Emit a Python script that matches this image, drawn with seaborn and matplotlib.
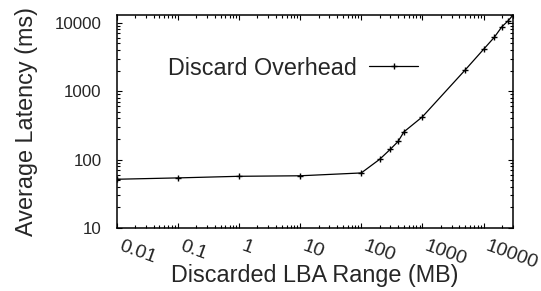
import matplotlib
matplotlib.use("Agg")
import matplotlib.pyplot as plt
import matplotlib.ticker as mticker
import matplotlib.transforms as mtrans
import seaborn as sns
import pandas as pd

# Data
range_mb = [0.01, 0.1, 1, 10, 100, 200, 300, 400, 500, 1000,
            5000, 10000, 15000, 20000, 25000, 30000]
latency_ms = [51.6, 54, 57, 58, 63.8, 101, 142, 184, 255, 422,
              2040, 4090, 6140, 8770, 10600, 12800]
series_name = "Discard Overhead"
x_ticks = [0.01, 0.1, 1, 10, 100, 1000, 10000]
x_tick_labels = ["0.01", "0.1", "1", "10", "100", "1000", "10000"]
y_ticks = [10, 100, 1000, 10000]
y_tick_labels = ["10", "100", "1000", "10000"]

df = pd.DataFrame({"range": range_mb, "latency": latency_ms})

sns.set_style("ticks")
plt.rcParams["font.family"] = ["Liberation Sans", "DejaVu Sans"]

fig = plt.figure(figsize=(5.41, 2.91), dpi=100)
ax = fig.add_axes([116.7 / 541, 1 - 228 / 291, (512.7 - 116.7) / 541, (228 - 15) / 291])

sns.lineplot(data=df, x="range", y="latency", color="black", label=series_name,
             marker="+", markersize=5, markeredgewidth=1.0,
             markeredgecolor="black", linewidth=0.9, ax=ax)

ax.set_xscale("log")
ax.set_yscale("log")
ax.set_xlim(0.01, 30000)
ax.set_ylim(10, 13000)

ax.set_xticks(x_ticks)
ax.set_xticklabels(x_tick_labels)
ax.set_yticks(y_ticks)
ax.set_yticklabels(y_tick_labels)
ax.xaxis.set_minor_locator(mticker.LogLocator(base=10, subs=range(2, 10), numticks=20))
ax.yaxis.set_minor_locator(mticker.LogLocator(base=10, subs=range(2, 10), numticks=20))
ax.xaxis.set_minor_formatter(mticker.NullFormatter())
ax.yaxis.set_minor_formatter(mticker.NullFormatter())

ax.tick_params(which="both", direction="in", top=True, right=True, color="black", width=0.8)
ax.tick_params(which="major", length=3.6)
ax.tick_params(which="minor", length=2.2)
ax.tick_params(axis="y", which="major", labelsize=12.2, pad=11)
ax.tick_params(axis="x", which="major", labelsize=14.0, pad=7)
shift = mtrans.ScaledTranslation(4 / 72, 0, fig.dpi_scale_trans)
for lab in ax.get_xticklabels():
    lab.set_rotation(-20)
    lab.set_ha("left")
    lab.set_va("top")
    lab.set_rotation_mode("anchor")
    lab.set_transform(lab.get_transform() + shift)

for sp in ax.spines.values():
    sp.set_color("black")
    sp.set_linewidth(1.1)

ax.set_xlabel("Discarded LBA Range (MB)", fontsize=16.8)
ax.xaxis.set_label_coords(0.5, -0.17)
ax.set_ylabel("Average Latency (ms)", fontsize=16.8, labelpad=12)

handles, labels = ax.get_legend_handles_labels()
ax.legend(handles, labels, loc="center right", markerfirst=False, frameon=False,
          fontsize=16.8, handlelength=2.1, handletextpad=0.5, borderpad=0,
          borderaxespad=0, numpoints=1,
          bbox_to_anchor=(418 / 541, 1 - 68 / 291), bbox_transform=fig.transFigure)

fig.savefig("out.png", dpi=100)
